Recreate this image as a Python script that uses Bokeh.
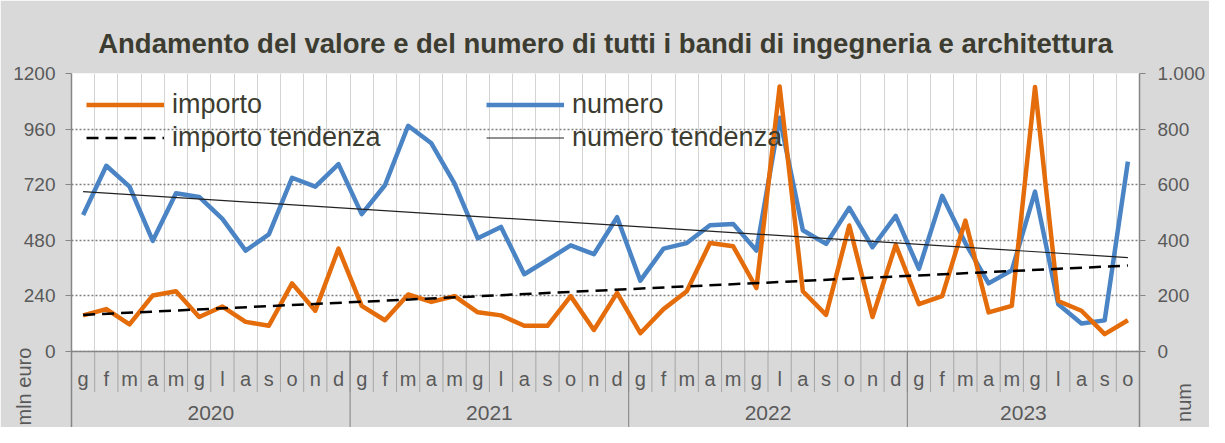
import math
from bokeh.plotting import figure
from bokeh.models import (Range1d, LinearAxis, FixedTicker, Legend, LegendItem, Span)
from bokeh.core.properties import value
from bokeh.embed import file_html
from bokeh.resources import INLINE

# ---------------- data ----------------
months = ["g", "f", "m", "a", "m", "g", "l", "a", "s", "o", "n", "d"] * 3 + \
         ["g", "f", "m", "a", "m", "g", "l", "a", "s", "o"]
years = ["2020", "2021", "2022", "2023"]
year_counts = [12, 12, 12, 10]

importo = [156, 183, 117, 242, 260, 149, 194, 128, 111, 294, 176, 444,
           197, 135, 246, 214, 239, 169, 156, 111, 111, 239, 93, 253,
           79, 183, 260, 468, 454, 274, 1144, 260, 158, 544, 149, 461,
           204, 239, 565, 169, 197, 1142, 218, 176, 75, 135]
numero = [491, 668, 593, 398, 569, 556, 477, 363, 421, 625, 593, 674,
          494, 598, 812, 749, 604, 407, 448, 278, 329, 382, 350, 483,
          255, 370, 390, 454, 459, 363, 841, 436, 387, 517, 375, 488,
          297, 560, 390, 245, 292, 575, 170, 101, 112, 683]
importo_trend = [158, 371]
numero_trend = [575, 338]

left_ticks = [0, 240, 480, 720, 960, 1200]
right_ticks = [0, 200, 400, 600, 800, 1000]
right_labels = ["0", "200", "400", "600", "800", "1.000"]

# ---------------- style / layout ----------------
FONT = "Liberation Sans"
ORANGE = "#E46C0A"
BLUE = "#4A84C5"
GREY_BG = "#d9d9d9"
TXT = "#595959"
AXIS = "#868686"
DARK = "#3c3c30"
NBSP = "\u00a0"

W, H = 1209, 427
F_LEFT, F_RIGHT, F_TOP = 71, 1140, 73
ZERO_Y = 351                     # pixel row of the value 0
BAND = H - ZERO_Y                # height of the category band (px)
PLOT_H = ZERO_Y - F_TOP          # px for the value range
LMAX, RMAX = 1200, 1000
l_per_px = LMAX / PLOT_H
r_per_px = RMAX / PLOT_H

n = len(months)
x = list(range(n))
trend_x = [x[0], x[-1]]
bounds = [i - 0.5 for i in range(n + 1)]
year_bounds = [-0.5]
year_centers = []
acc = -0.5
for c in year_counts:
    year_centers.append(acc + c / 2)
    acc += c
    year_bounds.append(acc)

p = figure(width=W, height=H, output_backend="svg", toolbar_location=None,
           x_range=Range1d(-0.5, n - 0.5),
           y_range=Range1d(-BAND * l_per_px, LMAX),
           x_axis_location=None,
           min_border_left=F_LEFT, min_border_right=W - F_RIGHT,
           min_border_top=F_TOP, min_border_bottom=0,
           background_fill_color="white", border_fill_color=GREY_BG,
           outline_line_color=None)
p.extra_y_ranges = {"num": Range1d(-BAND * r_per_px, RMAX)}

# title
p.title.text = "Andamento del valore e del numero di tutti i bandi di ingegneria e architettura"
p.title.align = "center"
p.title.text_font = FONT
p.title.text_font_size = "27.5px"
p.title.text_font_style = "bold"
p.title.text_color = DARK
p.title.standoff = 30

# grids
p.xgrid.ticker = FixedTicker(ticks=bounds)
p.xgrid.grid_line_color = "#d4d4d4"
p.xgrid.grid_line_width = 1
p.ygrid.ticker = FixedTicker(ticks=left_ticks)
p.ygrid.grid_line_color = "#808080"
p.ygrid.grid_line_dash = "2 2"
p.ygrid.grid_line_width = 1.5

def style_axis(ax, standoff):
    ax.axis_line_color = AXIS
    ax.axis_line_width = 1.5
    ax.major_tick_line_color = AXIS
    ax.major_tick_out = 6
    ax.major_tick_in = 0
    ax.minor_tick_line_color = None
    ax.major_label_text_font = FONT
    ax.major_label_text_font_size = "19px"
    ax.major_label_text_color = TXT
    ax.major_label_standoff = standoff
    ax.axis_label_text_font = FONT
    ax.axis_label_text_font_size = "20px"
    ax.axis_label_text_font_style = "normal"
    ax.axis_label_text_color = TXT

# left axis ("mln euro" pushed to the bottom end with trailing no-break spaces)
ya = p.yaxis[0]
ya.ticker = FixedTicker(ticks=left_ticks)
style_axis(ya, 10)
ya.axis_label = "mln euro" + NBSP * 49
ya.axis_label_standoff = -25

# right axis ("num" reads bottom-to-top, starting at the bottom end)
ra = LinearAxis(y_range_name="num", ticker=FixedTicker(ticks=right_ticks),
                major_label_overrides={t: l for t, l in zip(right_ticks, right_labels)})
style_axis(ra, 12)
ra.axis_label = NBSP + "num"
ra.axis_label_orientation = math.pi / 2
ra.axis_label_align = "start"
ra.axis_label_standoff = -24
p.add_layout(ra, "right")

# category band (below the value 0)
y_bot = -BAND * l_per_px
p.quad(left=[-0.5], right=[n - 0.5], bottom=[y_bot], top=[0],
       fill_color=GREY_BG, line_color=None)
month_sep_y = -40.5 * l_per_px
p.segment(x0=bounds, y0=[0] * len(bounds), x1=bounds, y1=[month_sep_y] * len(bounds),
          line_color="#a6a6a6", line_width=1)
p.segment(x0=year_bounds, y0=[0] * len(year_bounds), x1=year_bounds,
          y1=[y_bot] * len(year_bounds), line_color="#808080", line_width=1)
p.text(x=x, y=[-27 * l_per_px] * n, text=months, text_align="center",
       text_baseline="middle", text_font=value(FONT), text_font_size="20px",
       text_color=TXT)
p.text(x=year_centers, y=[-61 * l_per_px] * len(years), text=years,
       text_align="center", text_baseline="middle", text_font=value(FONT),
       text_font_size="21px", text_color=TXT)

# series
r_num = p.line(x, numero, y_range_name="num", line_color=BLUE, line_width=4.5,
               line_join="round")
r_imp = p.line(x, importo, line_color=ORANGE, line_width=4.5, line_join="round")
r_imp_t = p.line(trend_x, importo_trend, line_color="black", line_width=2.5,
                 line_dash="12 7")
r_num_t = p.line(trend_x, numero_trend, y_range_name="num", line_color="#222222",
                 line_width=1.2)

# zero line
p.add_layout(Span(location=0, dimension="width", line_color=AXIS, line_width=1.5))

# legend (2 columns)
legend = Legend(items=[LegendItem(label="importo", renderers=[r_imp]),
                       LegendItem(label="importo tendenza", renderers=[r_imp_t]),
                       LegendItem(label="numero", renderers=[r_num]),
                       LegendItem(label="numero tendenza", renderers=[r_num_t])],
                location="top_left", orientation="vertical", ncols=2,
                glyph_width=78, glyph_height=33, label_height=33, label_width=314,
                spacing=0, padding=0, margin=15, label_standoff=8,
                label_text_font=FONT, label_text_font_size="27px",
                label_text_color=DARK,
                background_fill_alpha=0, border_line_alpha=0)
p.add_layout(legend)

open("out.html", "w").write(file_html(p, INLINE))
